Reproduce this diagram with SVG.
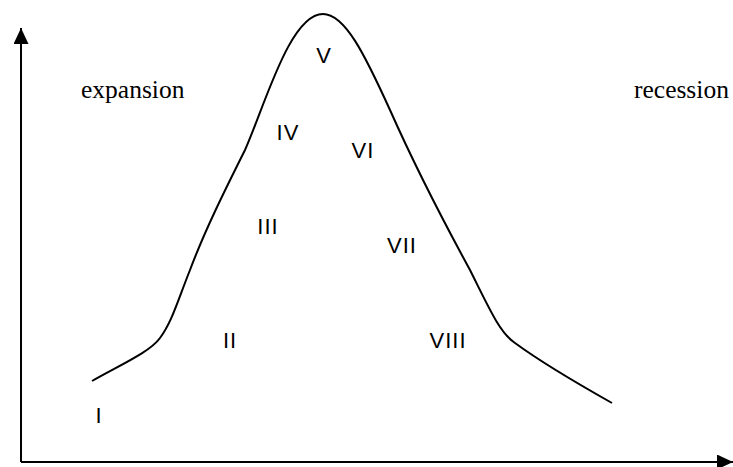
<svg xmlns="http://www.w3.org/2000/svg" width="733" height="467" viewBox="0 0 733 467">
<style>
.ax{stroke:#000;stroke-width:2;fill:none}
.cv{stroke:#000;stroke-width:2;fill:none}
.r{font-family:"Liberation Sans",Arial,sans-serif;font-size:22px;letter-spacing:1px;fill:#000;text-anchor:middle}
.s{font-family:"Liberation Serif","Times New Roman",serif;font-size:25.5px;fill:#000}
</style>
<defs>
<marker id="ah" markerWidth="16" markerHeight="15" refX="16" refY="7.5" orient="auto" markerUnits="userSpaceOnUse">
<path d="M0,0 L16,7.5 L0,15 Z" fill="#000"/>
</marker>
</defs>
<g id="connectors">
<line class="ax" x1="21" y1="462" x2="21" y2="28" marker-end="url(#ah)"/>
<line class="ax" x1="21" y1="462" x2="733" y2="462" marker-end="url(#ah)"/>
</g>
<g id="curve">
<path class="cv" d="M92,381 C120,365 150,352 160,338 C172,322 178,300 190,270 C205,230 225,190 245,150 C265,105 290,14 323,14 C345,14 365,55 390,110 C410,155 440,215 470,270 C490,310 500,333 515,343 C545,365 580,385 612,403"/>
</g>
<g id="labels">
<text class="r" x="99" y="423">I</text>
<text class="r" x="230" y="348">II</text>
<text class="r" x="268" y="234">III</text>
<text class="r" x="288" y="140">IV</text>
<text class="r" x="324" y="63">V</text>
<text class="r" x="363" y="158">VI</text>
<text class="r" x="402" y="253">VII</text>
<text class="r" x="448" y="348">VIII</text>
<text class="s" x="81" y="98">expansion</text>
<text class="s" x="634" y="98">recession</text>
</g>
</svg>
